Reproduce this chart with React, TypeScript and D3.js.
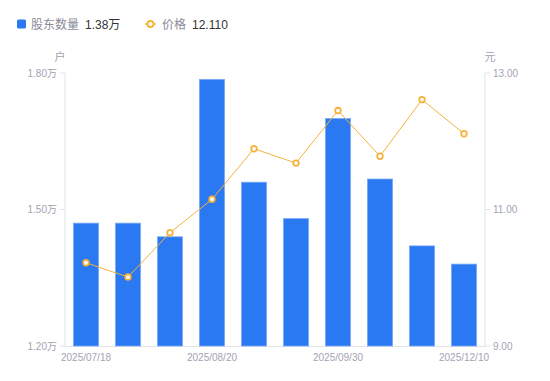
import React from "react";
import * as d3 from "d3";

const categories = ["2025/07/18", "2025/07/31", "2025/08/10", "2025/08/20", "2025/08/31", "2025/09/10", "2025/09/30", "2025/10/31", "2025/11/30", "2025/12/10"];
const holders = [1.47, 1.47, 1.44, 1.786, 1.56, 1.48, 1.70, 1.567, 1.42, 1.38];
const prices = [10.22, 10.01, 10.66, 11.15, 11.89, 11.68, 12.45, 11.78, 12.61, 12.11];
const leftTicks = [1.2, 1.5, 1.8];
const rightTicks = [9, 11, 13];
const shownLabels = ["2025/07/18", "2025/08/20", "2025/09/30", "2025/12/10"];

const W = 550, H = 381;
const M = { left: 65, right: 65, top: 73, bottom: 35 };
const FONT = "'Liberation Sans', Arial, 'Noto Sans CJK SC', sans-serif";

export default function App() {
  const x = d3.scaleBand<string>().domain(categories).range([M.left, W - M.right]).paddingInner(0.4).paddingOuter(0.2);
  const yL = d3.scaleLinear().domain([1.2, 1.8]).range([H - M.bottom, M.top]);
  const yR = d3.scaleLinear().domain([9, 13]).range([H - M.bottom, M.top]);
  const cx = (c: string) => (x(c) as number) + x.bandwidth() / 2;
  const line = d3.line<number>().x((_, i) => cx(categories[i])).y((d) => yR(d));
  const axisColor = "#e3e3e8";
  const tickText = "#a3a3b3";
  const bottom = H - M.bottom;
  return (
    <svg width={W} height={H} style={{ position: "absolute", left: 0, top: 0, fontFamily: FONT }}>
      {/* legend */}
      <rect x={17} y={19.5} width={9} height={9} rx={1.5} fill="#2A78F2" />
      <text x={31} y={28.5} fontSize={12} fill="#8a8a99">股东数量</text>
      <text x={85} y={28.5} fontSize={12} fill="#333">{holders[holders.length - 1].toFixed(2)}万</text>
      <line x1={145} x2={156} y1={24} y2={24} stroke="#F6B23A" strokeWidth={1.5} />
      <circle cx={150.5} cy={24} r={3} fill="#fff" stroke="#F6B23A" strokeWidth={1.8} />
      <text x={162} y={28.5} fontSize={12} fill="#8a8a99">价格</text>
      <text x={192} y={28.5} fontSize={12} fill="#333">{prices[prices.length - 1].toFixed(3)}</text>

      {/* unit labels */}
      <text x={60} y={61} fontSize={11} fill={tickText} textAnchor="middle">户</text>
      <text x={490} y={61} fontSize={11} fill={tickText} textAnchor="middle">元</text>

      {/* axes */}
      <line x1={M.left} x2={M.left} y1={M.top} y2={bottom} stroke={axisColor} />
      <line x1={W - M.right} x2={W - M.right} y1={M.top} y2={bottom} stroke={axisColor} />
      <line x1={M.left} x2={W - M.right} y1={bottom + 0.5} y2={bottom + 0.5} stroke={axisColor} />
      {leftTicks.map((t) => (
        <g key={"l" + t}>
          <line x1={M.left - 5} x2={M.left} y1={yL(t)} y2={yL(t)} stroke={axisColor} />
          <text x={M.left - 8} y={yL(t) + 3.5} fontSize={10} fill={tickText} textAnchor="end">{t.toFixed(2)}万</text>
        </g>
      ))}
      {rightTicks.map((t) => (
        <g key={"r" + t}>
          <line x1={W - M.right} x2={W - M.right + 5} y1={yR(t)} y2={yR(t)} stroke={axisColor} />
          <text x={W - M.right + 8} y={yR(t) + 3.5} fontSize={10} fill={tickText} textAnchor="start">{t.toFixed(2)}</text>
        </g>
      ))}
      {shownLabels.map((c) => (
        <text key={c} x={cx(c)} y={bottom + 15} fontSize={10} fill={tickText} textAnchor="middle">{c}</text>
      ))}

      {/* bars */}
      {holders.map((v, i) => (
        <rect key={i} x={x(categories[i])} y={yL(v)} width={x.bandwidth()} height={bottom - yL(v)} fill="#2A78F2" stroke="#7AAAF5" strokeWidth={0.8} />
      ))}

      {/* price line */}
      <path d={line(prices) || ""} fill="none" stroke="#F6B23A" strokeWidth={1} />
      {prices.map((p, i) => (
        <circle key={i} cx={cx(categories[i])} cy={yR(p)} r={2.8} fill="#fff" stroke="#F6B23A" strokeWidth={1.8} />
      ))}
    </svg>
  );
}
